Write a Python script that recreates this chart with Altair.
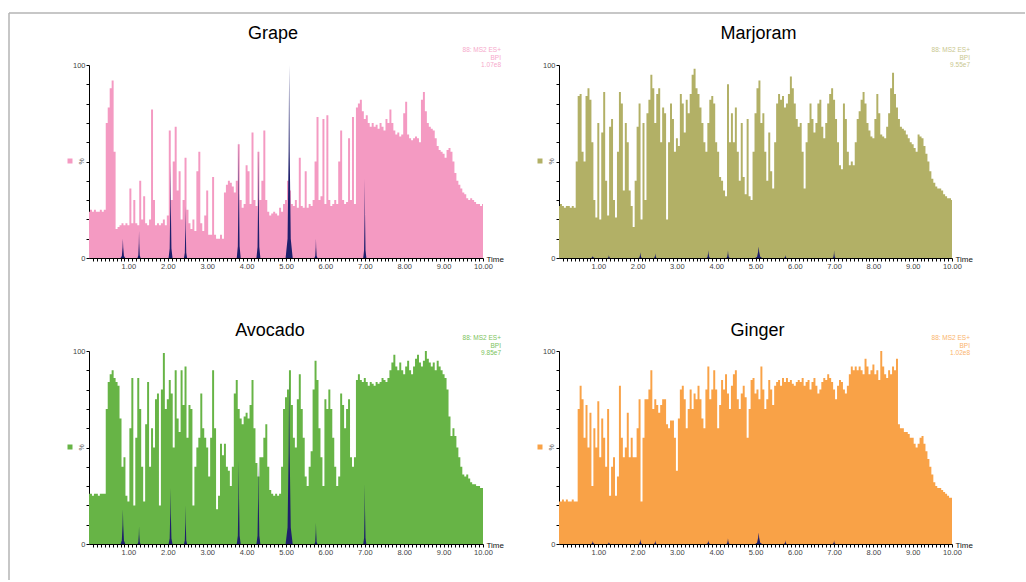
import altair as alt
import pandas as pd

# ---------------- data ----------------
TIMES = [round(i * 0.05, 2) for i in range(201)]  # retention time grid (min)

grape = [
    24, 25, 24, 25, 24, 24, 25, 24, 25, 70,
    78, 88, 92, 55, 15, 16, 17, 18, 17, 18,
    17, 36, 18, 30, 18, 17, 40, 20, 32, 18,
    17, 20, 77, 30, 17, 18, 17, 18, 20, 17,
    22, 66, 30, 50, 68, 35, 45, 20, 30, 52,
    25, 18, 15, 20, 14, 45, 55, 18, 14, 22,
    35, 12, 12, 42, 12, 10, 10, 12, 10, 34,
    38, 40, 39, 37, 34, 40, 59, 30, 26, 28,
    48, 45, 28, 65, 30, 27, 55, 30, 40, 66,
    30, 24, 22, 23, 24, 23, 22, 26, 24, 28,
    30, 40, 35, 28, 27, 30, 26, 52, 27, 26,
    45, 26, 28, 27, 30, 50, 73, 30, 32, 72,
    28, 74, 30, 27, 28, 30, 28, 50, 66, 30,
    28, 29, 62, 30, 73, 28, 78, 80, 82, 76,
    72, 74, 70, 68, 70, 68, 69, 67, 70, 68,
    66, 72, 70, 77, 70, 66, 64, 65, 63, 64,
    75, 81, 64, 62, 61, 62, 63, 62, 60, 82,
    86, 76, 70, 68, 67, 66, 62, 58, 56, 55,
    54, 52, 56, 57, 55, 50, 44, 40, 38, 36,
    34, 33, 31, 30, 31, 30, 29, 28, 28, 27,
    28,
]

marjoram = [
    27, 28, 27, 26, 27, 27, 26, 27, 26, 50,
    84, 85, 55, 50, 84, 88, 82, 60, 30, 21,
    70, 20, 65, 86, 40, 22, 68, 72, 30, 21,
    55, 86, 80, 35, 70, 60, 35, 27, 16, 40,
    68, 80, 20, 70, 30, 75, 82, 95, 88, 70,
    85, 88, 60, 78, 75, 20, 60, 80, 72, 55,
    62, 58, 85, 80, 65, 82, 75, 85, 95, 98,
    88, 85, 78, 70, 60, 55, 70, 82, 84, 80,
    60, 55, 42, 40, 35, 32, 90, 60, 75, 60,
    78, 55, 40, 70, 42, 33, 72, 32, 30, 55,
    75, 88, 92, 70, 75, 55, 40, 65, 45, 36,
    60, 80, 85, 82, 84, 78, 80, 85, 94, 88,
    80, 72, 68, 70, 55, 36, 60, 70, 80, 72,
    65, 70, 80, 82, 68, 62, 70, 80, 85, 88,
    82, 72, 60, 48, 46, 80, 72, 55, 48, 50,
    48, 60, 72, 76, 82, 86, 80, 70, 66, 63,
    62, 72, 85, 75, 64, 63, 62, 68, 75, 88,
    96, 85, 78, 72, 68, 67, 66, 64, 62, 60,
    59, 57, 55, 64, 63, 62, 58, 54, 50, 45,
    41, 39, 37, 36, 36, 35, 33, 32, 31, 31,
    30,
]

avocado = [
    26, 26, 25, 26, 26, 25, 26, 26, 26, 70,
    84, 88, 90, 86, 84, 82, 65, 40, 45, 25,
    22, 60, 86, 20, 55, 86, 70, 40, 22, 62,
    84, 40, 60, 50, 75, 78, 20, 80, 99, 70,
    75, 85, 78, 50, 90, 65, 58, 90, 72, 92,
    55, 72, 70, 20, 40, 50, 55, 78, 60, 55,
    50, 35, 55, 90, 60, 18, 25, 52, 46, 52,
    40, 38, 30, 40, 78, 85, 70, 65, 62, 66,
    68, 65, 72, 85, 60, 42, 35, 45, 45, 55,
    62, 40, 28, 26, 25, 26, 25, 26, 40, 70,
    76, 80, 90, 72, 55, 50, 75, 88, 70, 55,
    35, 30, 40, 48, 80, 95, 85, 60, 45, 30,
    75, 70, 80, 70, 55, 40, 30, 35, 78, 72,
    60, 70, 75, 45, 40, 45, 85, 88, 85, 84,
    86, 84, 82, 84, 83, 82, 84, 83, 84, 86,
    85, 84, 86, 90, 94, 98, 92, 90, 94, 90,
    88, 92, 95, 90, 88, 92, 96, 98, 94, 92,
    95, 100, 96, 94, 92, 94, 90, 95, 92, 90,
    88, 86, 80, 66, 56, 60, 56, 50, 45, 40,
    36, 35, 36, 34, 32, 31, 31, 30, 30, 29,
    29,
]

ginger = [
    22, 22, 23, 22, 23, 22, 22, 23, 22, 22,
    70, 82, 75, 55, 72, 50, 68, 30, 60, 50,
    74, 45, 65, 55, 40, 70, 25, 40, 45, 25,
    35, 82, 55, 45, 50, 68, 45, 55, 45, 45,
    60, 75, 22, 55, 75, 75, 80, 90, 70, 75,
    72, 68, 72, 75, 75, 62, 60, 64, 64, 55,
    38, 65, 80, 82, 75, 60, 70, 80, 70, 78,
    75, 82, 75, 65, 60, 80, 92, 75, 80, 90,
    80, 60, 72, 85, 80, 88, 78, 70, 82, 88,
    90, 75, 70, 78, 82, 76, 55, 70, 85, 86,
    78, 80, 75, 92, 80, 70, 75, 85, 80, 72,
    82, 84, 85, 82, 86, 84, 86, 84, 85, 83,
    82, 84, 85, 84, 86, 82, 84, 85, 80, 84,
    86, 82, 78, 80, 84, 86, 85, 88, 86, 84,
    80, 75, 82, 85, 84, 80, 78, 82, 88, 92,
    90, 92, 90, 92, 90, 88, 96, 92, 88, 90,
    93, 88, 90, 85, 100, 92, 88, 86, 90, 88,
    92, 90, 96, 62, 60, 60, 58, 58, 57, 55,
    55, 52, 50, 52, 55, 56, 52, 48, 44, 40,
    36, 32, 30, 29, 29, 28, 27, 26, 25, 24,
    24,
]

# overlaid reference peaks (navy)
PEAK_TIMES = [0.86, 1.27, 2.07, 2.45, 3.80, 4.30, 5.08, 5.76, 7.00]
PEAK_HALF = [0.06, 0.04, 0.05, 0.04, 0.05, 0.05, 0.09, 0.04, 0.04]
grape_peaks = [10, 14, 49, 27, 61, 57, 100, 10, 41]
marjoram_peaks = [1, 1.5, 3, 2.5, 4, 4, 6, 1.5, 4]
avocado_peaks = [18, 9, 29, 20, 43, 43, 85, 11, 31]
ginger_peaks = [1.5, 1, 2.5, 2, 2, 3, 6, 2, 2]
PROFILE_DX = [-1, -0.45, -0.15, 0, 0.15, 0.45, 1]
PROFILE_FY = [0, 0.1, 0.55, 1, 0.55, 0.1, 0]

NAMES = ["Grape", "Marjoram", "Avocado", "Ginger"]
SCALES = ["1.07e8", "9.55e7", "9.85e7", "1.02e8"]
COLORS = ["#F49AC2", "#B2B066", "#67B446", "#F9A247"]
LIGHTS = ["#F6A9CB", "#C9C78F", "#7CC35C", "#FAB46C"]
NAVY = "#1E1F6C"
FONT = "Liberation Sans"

X_VALUES = [round(k * 0.1, 1) for k in range(1, 101)]
Y_VALUES = list(range(0, 101, 10))


def peak_table(heights):
    rows = []
    for k, (t, w, h) in enumerate(zip(PEAK_TIMES, PEAK_HALF, heights)):
        for dx, fy in zip(PROFILE_DX, PROFILE_FY):
            rows.append({"peak": k, "t": t + dx * w, "v": h * fy})
    return pd.DataFrame(rows)


def panel(idx, values, peaks, width, title_y, title_dx, note_y, frame=False):
    df = pd.DataFrame({"t": TIMES, "v": values})
    xs = alt.Scale(domain=[0, 10], nice=False, zero=False)
    ys = alt.Scale(domain=[0, 100], nice=False)
    xaxis = alt.Axis(
        values=X_VALUES,
        labelExpr="abs(datum.value - round(datum.value)) < 0.001 ? format(datum.value, '.2f') : ''",
        tickSize=3, tickColor="#000", domainColor="#000", domainWidth=1,
        labelFontSize=7.5, labelColor="#444", labelFont=FONT,
        labelOverlap=False, labelFlush=False, labelPadding=1, grid=False,
        title="Time", titleX=width + 3, titleY=1, titleAlign="left",
        titleBaseline="middle", titleFontSize=8, titleFontWeight="normal",
        titleColor="#111", titleFont=FONT, titleAngle=0,
    )
    yaxis = alt.Axis(
        values=Y_VALUES,
        labelExpr="datum.value == 0 || datum.value == 100 ? format(datum.value, 'd') : ''",
        tickSize=3, tickColor="#000", domainColor="#000", domainWidth=1,
        labelFontSize=7.5, labelColor="#444", labelFont=FONT,
        labelOverlap=False, labelPadding=1, grid=False,
        title="%", titleX=-8, titleY=96, titleAngle=270, titleAlign="center",
        titleBaseline="middle", titleFontSize=7, titleFontWeight="normal",
        titleColor="#666", titleFont=FONT,
    )
    area = alt.Chart(df).mark_area(color=COLORS[idx], interpolate="step").encode(
        x=alt.X("t:Q", scale=xs, axis=xaxis),
        y=alt.Y("v:Q", scale=ys, axis=yaxis),
    )
    pk = alt.Chart(peak_table(peaks)).mark_area(color=NAVY, interpolate="linear").encode(
        x=alt.X("t:Q", scale=xs, axis=xaxis),
        y=alt.Y("v:Q", scale=ys, axis=yaxis),
        detail="peak:N",
    )
    one = pd.DataFrame({"a": [0]})
    note = alt.Chart(one).mark_text(
        text=["88: MS2 ES+", "BPI", SCALES[idx]], align="right", baseline="top",
        fontSize=6.5, lineHeight=7.5, font=FONT, color=LIGHTS[idx],
    ).encode(x=alt.value(width + 18), y=alt.value(note_y))
    title = alt.Chart(one).mark_text(
        text=NAMES[idx], align="center", baseline="alphabetic",
        fontSize=18, font=FONT, color="#000",
    ).encode(x=alt.value(width / 2 + title_dx), y=alt.value(title_y))
    square = alt.Chart(one).mark_square(size=25, color=COLORS[idx], opacity=1).encode(
        x=alt.value(-19), y=alt.value(96)
    )
    layers = [area, pk, note, title, square]
    if frame:
        fr1 = alt.Chart(one).mark_rule(color="#B4B4B4", strokeWidth=1.5).encode(
            x=alt.value(-80), y=alt.value(-52), y2=alt.value(515))
        fr2 = alt.Chart(one).mark_rule(color="#B4B4B4", strokeWidth=1.5).encode(
            x=alt.value(-80), x2=alt.value(936), y=alt.value(-52))
        layers += [fr1, fr2]
    return alt.layer(*layers).properties(width=width, height=193)


chart = alt.concat(
    panel(0, grape, grape_peaks, 394, -26, -13, -18, frame=True),
    panel(1, marjoram, marjoram_peaks, 393, -26, 3, -18),
    panel(2, avocado, avocado_peaks, 394, -15, -16, -16),
    panel(3, ginger, ginger_peaks, 393, -15, 2, -16),
    columns=2,
    spacing={"row": 93, "column": 76},
    bounds="flush",
).properties(
    padding={"left": 8, "top": 12, "right": 0, "bottom": 0},
    background="white",
).configure_view(stroke=None)

chart.save("out.html", embed_options={"renderer": "svg", "actions": False})
